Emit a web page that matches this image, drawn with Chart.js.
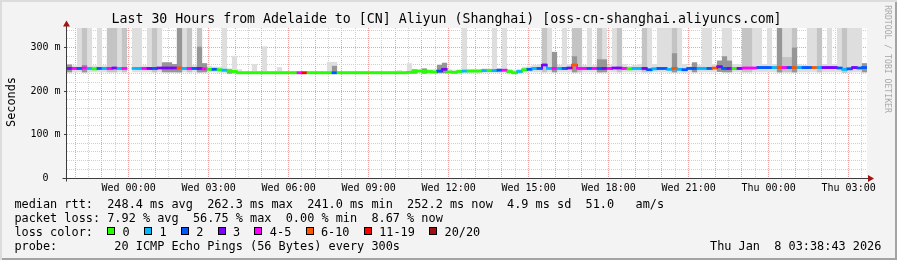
<!DOCTYPE html>
<html>
<head>
<meta charset="utf-8">
<title>Smokeping - Aliyun Shanghai</title>
<script src="https://cdn.jsdelivr.net/npm/chart.js@4/dist/chart.umd.min.js"></script>
<style>
  body{margin:0;background:#f3f3f3;}
  #wrap{position:relative;width:897px;height:260px;background:#f3f3f3;overflow:hidden;font-family:'DejaVu Sans Mono',monospace;color:#000;}
  #wrap:after{content:'';position:absolute;left:0;top:0;right:0;bottom:0;box-shadow:inset 2px 2px 0 #dcdcdc, inset -2px -2px 0 #a3a3a3;pointer-events:none;}
  canvas{position:absolute;left:0;top:0;}
  .t{position:absolute;white-space:pre;}
  #title{left:111.5px;top:11.4px;font-size:13.25px;line-height:16px;}
  #legend{left:14.4px;top:197px;font-size:11.86px;line-height:14px;}
  #stamp{left:710px;top:239px;font-size:11.86px;line-height:14px;}
  #ylab{left:-19.5px;top:95px;width:60px;height:14px;text-align:center;font-size:11.86px;line-height:14px;transform:rotate(-90deg);}
  #rrd{left:827.5px;top:54px;width:120px;height:10px;text-align:center;font-size:8.15px;line-height:10px;color:#a8a8a8;transform:rotate(90deg);}
  .sw{display:inline-block;width:8px;height:8px;box-sizing:border-box;border:1px solid #000;margin-right:7.4px;position:relative;top:-1px;}
</style>
</head>
<body>
<div id="wrap">
  <canvas id="c" width="897" height="260"></canvas>
  <div class="t" id="title">Last 30 Hours from Adelaide to [CN] Aliyun (Shanghai) [oss-cn-shanghai.aliyuncs.com]</div>
  <div class="t" id="ylab">Seconds</div>
  <div class="t" id="rrd">RRDTOOL / TOBI OETIKER</div>
  <div class="t" id="legend"></div>
  <div class="t" id="stamp">Thu Jan  8 03:38:43 2026</div>
</div>
<script>
/* ---- data: 160 slots of 11.25 min, hours counted from Wed 00:00 ---- */
const T0 = -2.31;          // left edge of graph, hours relative to Wed 00:00
const SPAN = 30;           // hours shown
const STEP = 0.1875;       // hours per slot
const N = null;

// median rtt (ms)
const med = [
  252,252,252,253,252,251,252,252,252,253, 252,252,N,252,252,252,252,252,253,253,
  253,253,253,252,252,252,252,251,250,250, 249,248,246,245,242,242,242,242,242,242,
  242,242,242,242,242,242,242,242,242,242, 242,242,242,242,242,242,242,242,242,242,
  242,242,242,242,242,242,242,242,243,245, 246,245,245,244,246,250,244,243,245,246,
  246,246,246,247,247,247,248,248,245,242, 245,249,250,252,252,260,252,252,252,252,
  253,260,252,252,252,252,252,252,252,253, 253,252,251,252,252,252,249,251,252,252,
  250,252,250,249,252,252,252,252,252,253, 256,252,252,252,252,253,253,253,254,254,
  254,254,254,254,254,254,254,254,254,254, 254,254,254,254,253,250,251,254,253,254
];
// lost pings out of 20
const loss = [
  3,5,2,4,1,0,2,1,5,3, 1,5,N,1,1,5,3,2,3,3,
  3,3,8,1,5,2,3,5,0,2, 0,1,0,0,0,0,0,0,0,0,
  0,0,0,0,0,0,5,15,0,0, 0,0,0,2,0,0,0,0,0,0,
  0,0,0,0,0,0,0,0,0,0, 0,0,0,0,2,3,0,0,0,1,
  0,0,0,1,0,1,2,5,0,0, 1,0,2,1,2,3,1,5,1,2,
  3,8,5,5,2,5,2,3,5,3, 3,5,0,1,1,3,2,1,2,2,
  1,8,1,2,2,2,1,1,2,8, 3,2,3,0,3,5,5,5,2,2,
  2,1,8,5,2,8,1,2,2,8, 1,3,3,3,2,1,2,3,2,2
];
// smoke: lowest ping (ms)
const smokeLow = [
  243,243,243,243,243,243,243,243,243,243, 243,243,N,243,243,243,243,243,243,243,
  243,243,243,243,243,243,243,243,243,243, 242,242,240,240,239,239,239,239,239,239,
  239,239,239,239,239,239,239,239,239,239, 239,239,239,239,239,239,239,239,239,239,
  239,239,239,239,239,239,239,239,239,240, 241,240,240,240,241,241,240,239,240,241,
  241,241,241,242,242,242,242,242,241,239, 240,242,243,243,243,243,243,243,243,243,
  243,243,243,243,243,243,243,243,243,243, 243,243,243,243,243,243,242,243,243,243,
  242,243,242,242,243,243,243,243,243,243, 244,243,243,243,243,243,243,243,243,243,
  243,243,243,243,243,243,243,243,243,243, 243,243,243,243,243,242,242,243,243,243
];
// smoke: highest ping (ms), 345 = off the top
const smokeTop = [
  262,259,345,345,345,259,345,259,345,345, 345,345,N,345,345,259,345,345,345,266,
  266,262,345,345,345,260,345,264,258,256, 256,345,252,281,250,246,246,262,246,303,
  246,246,255,246,246,246,246,246,246,246, 246,246,267,267,246,246,246,246,246,246,
  246,246,246,246,246,246,248,246,264,250, 250,252,250,250,262,265,250,249,250,345,
  251,251,251,252,252,345,253,345,251,249, 251,256,258,260,262,345,345,290,260,345,
  262,345,345,260,345,260,345,345,260,345, 345,262,258,260,262,345,345,262,345,345,
  345,345,345,262,258,266,260,345,345,262, 270,345,345,262,262,345,345,345,345,262,
  345,262,345,345,345,345,262,260,345,345, 345,262,345,262,345,345,345,345,345,264
];
// smoke: upper quartile band (ms)
const smokeMid = [
  N,N,N,345,N,N,N,N,345,345, N,345,N,N,N,N,N,345,N,N,
  N,N,345,N,345,N,345,N,N,N, N,N,N,N,N,N,N,N,N,N,
  N,N,N,N,N,N,N,N,N,N, N,N,N,N,N,N,N,N,N,N,
  N,N,N,N,N,N,N,N,N,N, N,N,N,N,N,N,N,N,N,N,
  N,N,N,N,N,N,N,N,N,N, N,N,N,N,N,345,N,N,N,N,
  N,345,345,N,N,N,345,N,N,N, 345,N,N,N,N,345,N,N,N,N,
  N,345,N,N,N,N,N,N,N,N, N,N,N,N,N,345,345,N,N,N,
  N,N,345,278,278,345,N,N,N,N, 345,N,N,N,N,345,N,N,N,N
];
// smoke: dense band near the median (ms)
const smokeDark = [
  261,N,N,260,N,N,N,N,N,N, N,N,N,N,N,N,N,N,N,266,
  266,262,345,N,N,N,302,264,N,N, N,N,250,N,N,N,N,N,N,N,
  N,N,N,N,N,N,N,N,N,N, N,N,N,258,N,N,N,N,N,N,
  N,N,N,N,N,N,N,N,N,250, N,252,N,N,260,265,N,N,N,N,
  N,N,N,N,N,N,N,N,N,N, N,N,N,N,N,N,N,290,N,N,
  N,280,N,N,N,N,273,273,N,N, N,N,N,N,N,N,N,N,N,N,
  N,287,N,N,N,266,N,N,N,N, 270,280,270,N,N,N,N,N,N,N,
  N,N,345,N,N,300,N,N,N,N, N,N,N,N,N,N,N,N,N,264
];

const lossLimits = [0, 1, 2, 3, 5, 10, 19, 20];
const lossLabels = ['0', '1', '2', '3', '4-5', '6-10', '11-19', '20/20'];
const lossColors = ['#26ff00', '#00b8ff', '#0059ff', '#7e00ff', '#ff00ff', '#ff5500', '#ff0000', '#a01010'];

const xLabelHours = [0, 3, 6, 9, 12, 15, 18, 21, 24, 27];
const xLabels = ['Wed 00:00', 'Wed 03:00', 'Wed 06:00', 'Wed 09:00', 'Wed 12:00', 'Wed 15:00', 'Wed 18:00', 'Wed 21:00', 'Thu 00:00', 'Thu 03:00'];
const yMax = 345;

/* ---- legend text ---- */
const lossColor = l => lossColors[lossLimits.findIndex(v => l <= v)];
document.getElementById('legend').innerHTML =
  'median rtt:  248.4 ms avg  262.3 ms max  241.0 ms min  252.2 ms now  4.9 ms sd  51.0   am/s\n' +
  'packet loss: 7.92 % avg  56.75 % max  0.00 % min  8.67 % now\n' +
  'loss color:  ' + lossLabels.map((t, i) => `<span class="sw" style="background:${lossColors[i]}"></span>${t}`).join('  ') + '\n' +
  'probe:        20 ICMP Echo Pings (56 Bytes) every 300s';

/* ---- chart ---- */
const xs = med.map((_, i) => T0 + (i + 0.5) * STEP);
const band = (lo, hi) => xs.map((x, i) => ({x, y: (lo[i] == null || hi[i] == null) ? null : [lo[i], hi[i]]}));
const medBar = xs.map((x, i) => ({x, y: med[i] == null ? null : [med[i] - 2.4, med[i] + 2.4]}));

const frame = {
  id: 'frame',
  beforeDraw(c){
    const {ctx, chartArea:a} = c;
    ctx.save(); ctx.fillStyle = '#fff'; ctx.fillRect(a.left, a.top, a.right - a.left, a.bottom - a.top); ctx.restore();
  },
  afterDraw(c){
    const {ctx, chartArea:a} = c;
    const x0 = Math.round(a.left) - 0.5, y0 = Math.round(a.bottom) + 0.5;
    ctx.save();
    ctx.strokeStyle = '#3c3c3c'; ctx.lineWidth = 1;
    ctx.beginPath();
    ctx.moveTo(x0, y0 + 3); ctx.lineTo(x0, a.top - 3);
    ctx.moveTo(x0 - 4, y0); ctx.lineTo(a.right + 2, y0);
    ctx.stroke();
    ctx.fillStyle = '#a01414';
    ctx.beginPath(); ctx.moveTo(x0, a.top - 7.5); ctx.lineTo(x0 - 3.5, a.top - 1.5); ctx.lineTo(x0 + 3.5, a.top - 1.5); ctx.closePath(); ctx.fill();
    ctx.beginPath(); ctx.moveTo(a.right + 7, y0); ctx.lineTo(a.right + 1, y0 - 3.5); ctx.lineTo(a.right + 1, y0 + 3.5); ctx.closePath(); ctx.fill();
    ctx.restore();
  }
};

const tickFont = {family:"'DejaVu Sans Mono'", size:10};
const barBase = {type:'bar', grouped:false, barPercentage:1.04, categoryPercentage:1, borderWidth:0};

new Chart(document.getElementById('c'), {
  type:'bar',
  data:{ datasets:[
    {...barBase, label:'smoke max', data:band(smokeLow, smokeTop), backgroundColor:'#dedede', order:6},
    {...barBase, label:'smoke mid', data:band(smokeLow, smokeMid), backgroundColor:'#c4c4c4', order:5},
    {...barBase, label:'smoke dense', data:band(smokeLow, smokeDark), backgroundColor:'#969696', order:4},
    {type:'line', label:'median step', data:xs.map((x, i) => ({x, y:med[i]})), stepped:'middle', borderWidth:2,
      pointRadius:0, spanGaps:false, borderColor:'#26ff00',
      segment:{borderColor: s => lossColor(loss[s.p1DataIndex])}, order:3},
    {...barBase, barPercentage:1, label:'median rtt', data:medBar,
      backgroundColor: medBar.map((_, i) => loss[i] == null ? 'transparent' : lossColor(loss[i])), order:2}
  ]},
  options:{
    responsive:false, animation:false, devicePixelRatio:1, events:[],
    layout:{padding:{left:0, right:30, top:28, bottom:0}},
    plugins:{legend:{display:false}, tooltip:{enabled:false}},
    scales:{
      x:{
        type:'linear', min:T0, max:T0 + SPAN, offset:false, z:1,
        afterBuildTicks: s => { const t = []; for (let h = -2; h <= 27.5; h += 0.5) t.push({value:h}); s.ticks = t; },
        afterFit: s => { s.height = 82; },
        grid:{offset:false, lineWidth:1, drawTicks:true, tickLength:2, tickColor:'transparent',
          color: c => Number.isInteger(c.tick.value) ? '#f2a0a0' : '#cfcfcf'},
        border:{display:false, dash:[1,1]},
        ticks:{autoSkip:false, maxRotation:0, padding:2, color:'#000', font:tickFont,
          callback: v => { const k = xLabelHours.indexOf(v); return k < 0 ? '' : xLabels[k]; }}
      },
      y:{
        min:0, max:yMax, z:1,
        afterFit: s => { s.width = 67; },
        grid:{lineWidth:1, drawTicks:true, tickLength:3,
          color: c => c.tick.value % 100 === 0 ? '#f2a0a0' : '#cfcfcf',
          tickColor: c => c.tick.value % 100 === 0 ? '#3c3c3c' : 'transparent'},
        border:{display:false, dash:[1,1]},
        ticks:{stepSize:20, includeBounds:false, autoSkip:false, padding:3.5, color:'#000', font:tickFont,
          callback: v => v % 100 !== 0 ? '' : (v === 0 ? '0  ' : v + ' m')}
      }
    }
  },
  plugins:[frame]
});
</script>
</body>
</html>
